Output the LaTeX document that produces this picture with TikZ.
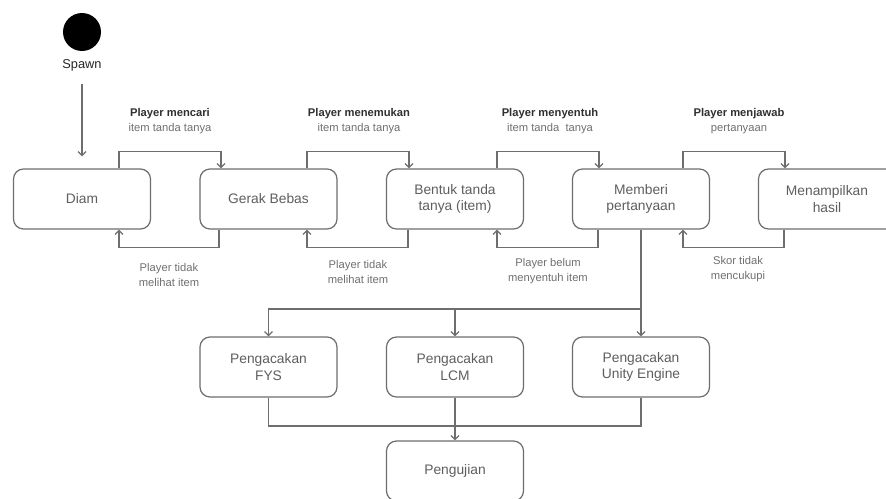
\documentclass[tikz,border=0pt]{standalone}
\usepackage{fontspec}
\setmainfont{Liberation Sans}
\usetikzlibrary{arrows.meta,calc}
\definecolor{lineg}{HTML}{6E6E6E}
\definecolor{boxtxt}{HTML}{5E5E5E}
\definecolor{labdark}{HTML}{303030}
\definecolor{labgray}{HTML}{707070}
\tikzset{
  state/.style={draw=lineg, line width=1.2pt, rounded corners=10pt, fill=white,
    minimum width=137pt, minimum height=60pt, align=center, text=boxtxt,
    font=\fontsize{13.8}{16.5}\selectfont, inner sep=2pt},
  conn/.style={draw=lineg, line width=1.2pt, -{Straight Barb[length=4pt,width=8pt]}},
  plain/.style={draw=lineg, line width=1.2pt},
  lab/.style={align=center, font=\fontsize{11.2}{15}\selectfont, text=labgray, inner sep=0pt},
}
\newcommand{\tl}[1]{\textcolor{labdark}{\bfseries #1}}
\begin{document}
\begin{tikzpicture}[x=1pt,y=-1pt]
\useasboundingbox[fill=white] (0,0) rectangle (886,498);
% start
\node[circle, fill=black, minimum size=38pt, inner sep=0pt] (start) at (82,32) {};
\node[font=\fontsize{12.8}{15}\selectfont, text=black!85] (spawn) at (82,65) {Spawn};
% states
\node[state] (diam) at (82,199) {Diam};
\node[state] (gerak) at (268.5,199) {Gerak Bebas};
\node[state] (bentuk) at (455,199) {Bentuk tanda\\tanya (item)};
\node[state] (memberi) at (641,199) {Memberi\\pertanyaan};
\node[state] (hasil) at (827,199) {Menampilkan\\hasil};
\node[state] (fys) at (268.5,367) {Pengacakan\\FYS};
\node[state] (lcm) at (455,367) {Pengacakan\\LCM};
\node[state] (unity) at (641,367) {Pengacakan\\Unity Engine};
\node[state] (uji) at (455,471) {Pengujian};
% spawn arrow
\draw[conn] ([yshift=-10pt]spawn.south) -- ([yshift=12pt]diam.north);
% top transitions
\draw[conn] ([xshift=37pt]diam.north) -- ++(0,-17) -| ([xshift=-47.5pt]gerak.north);
\draw[conn] ([xshift=38.5pt]gerak.north) -- ++(0,-17) -| ([xshift=-46pt]bentuk.north);
\draw[conn] ([xshift=42pt]bentuk.north) -- ++(0,-17) -| ([xshift=-42pt]memberi.north);
\draw[conn] ([xshift=42pt]memberi.north) -- ++(0,-17) -| ([xshift=-42pt]hasil.north);
% bottom transitions
\draw[conn] ([xshift=-49.5pt]gerak.south) -- ++(0,18) -| ([xshift=37pt]diam.south);
\draw[conn] ([xshift=-47pt]bentuk.south) -- ++(0,18) -| ([xshift=38.5pt]gerak.south);
\draw[conn] ([xshift=-43pt]memberi.south) -- ++(0,18) -| ([xshift=42pt]bentuk.south);
\draw[conn] ([xshift=-43pt]hasil.south) -- ++(0,18) -| ([xshift=42pt]memberi.south);
% labels top
\node[lab] (l1) at (170,121) {\tl{Player mencari}\\item tanda tanya};
\node[lab] (l2) at (359,121) {\tl{Player menemukan}\\item tanda tanya};
\node[lab] (l3) at (550,121) {\tl{Player menyentuh}\\item tanda\ \ tanya};
\node[lab] (l4) at (739,121) {\tl{Player menjawab}\\pertanyaan};
% labels bottom
\node[lab] (b1) at (169,275) {Player tidak\\melihat item};
\node[lab] (b2) at (358,271.5) {Player tidak\\melihat item};
\node[lab] (b3) at (548,271.5) {Player belum\\menyentuh item};
\node[lab] (b4) at (738,269) {Skor tidak\\mencukupi};
% randomisation branch
\coordinate (br) at (641,309);
\coordinate (jn) at (455,426);
\draw[conn] (memberi.south) -- (unity.north);
\draw[conn] (br) -| (fys.north);
\draw[conn] (lcm.north |- br) -- (lcm.north);
\draw[plain] (fys.south) |- (unity.south |- jn) -- (unity.south);
\draw[conn] (lcm.south) -- (uji.north);
\end{tikzpicture}
\end{document}
